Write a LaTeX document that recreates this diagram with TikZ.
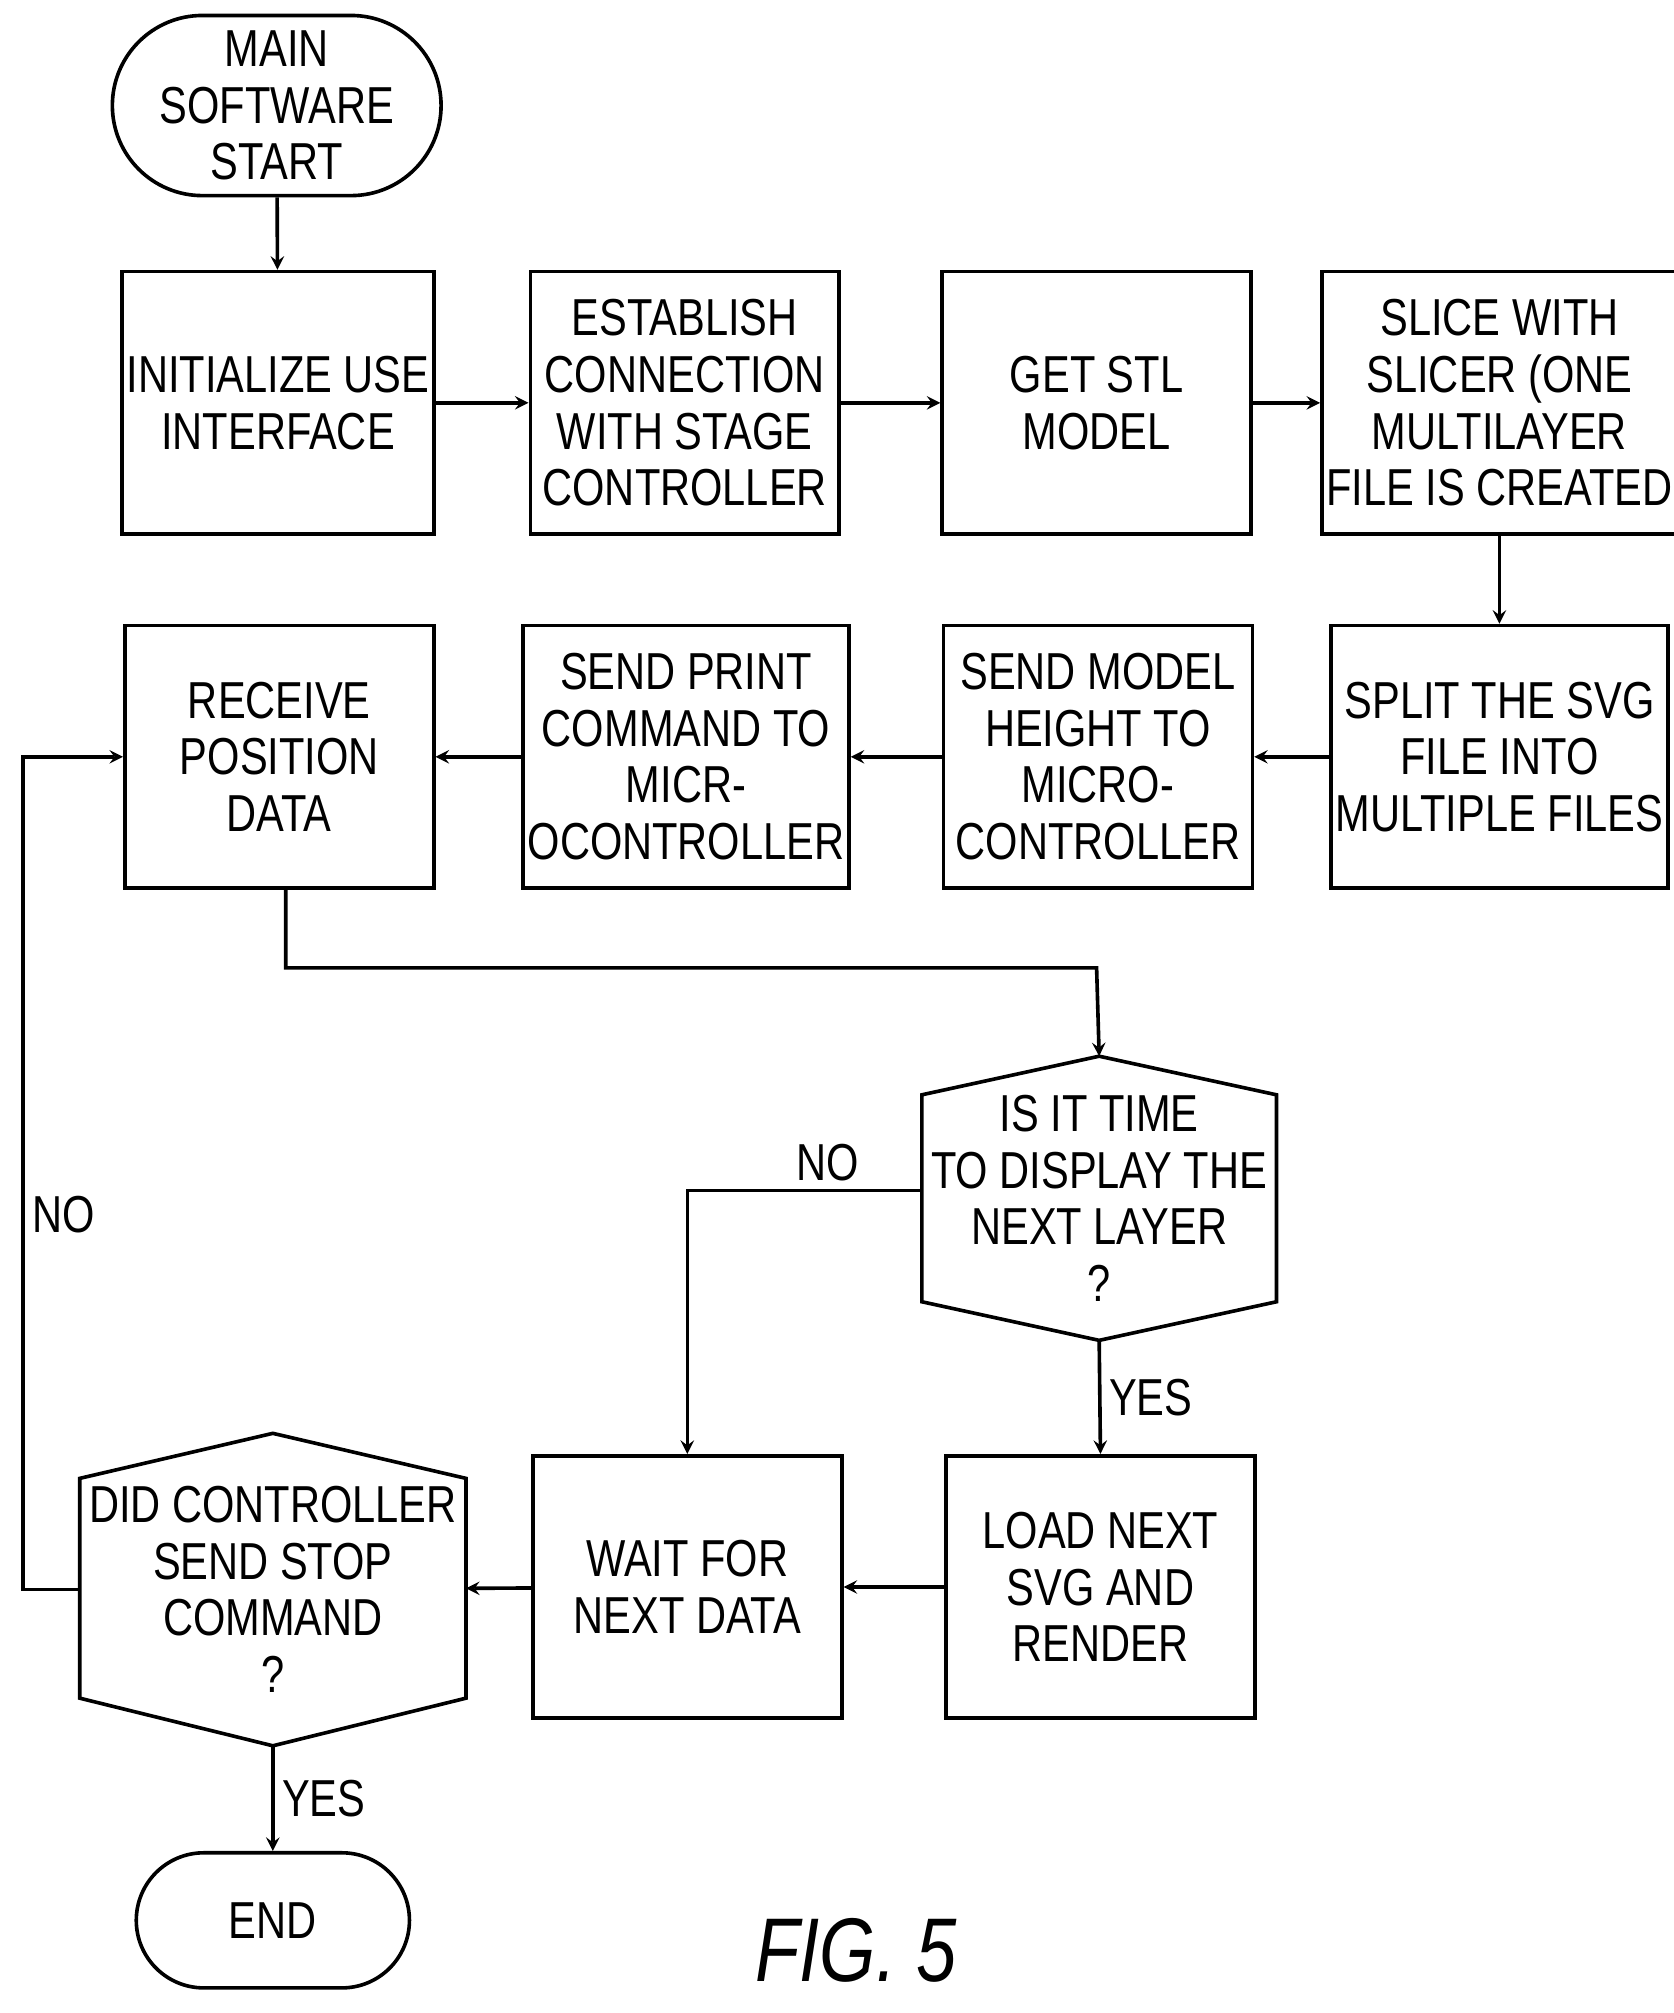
\documentclass[tikz,border=0pt]{standalone}
\usepackage{fontspec}
\setmainfont{Liberation Sans}[FakeStretch=0.8]
\usetikzlibrary{shapes.misc,calc}
\begin{document}
\begin{tikzpicture}[x=0.02cm,y=-0.02cm,line width=1.6pt,
  box/.style={draw,rectangle,minimum width=4.8cm,minimum height=4.08cm,align=center,
    font=\fontsize{23}{25}\selectfont,inner sep=2pt},
  term/.style={draw,rounded rectangle,align=center,font=\fontsize{23}{25}\selectfont},
  hexa/.style={rectangle,align=center,font=\fontsize{23}{25}\selectfont},
  lbl/.style={font=\fontsize{23}{25}\selectfont},
  arr/.style={->,>=stealth}]
\useasboundingbox (0,0) rectangle (1300,1564);

% Top row
\node[term,minimum width=4.7cm,minimum height=2.8cm] (start) at (215,82) {MAIN\\SOFTWARE\\START};
\node[box] (init) at (216,313) {INITIALIZE USE\\INTERFACE};
\node[box] (estab) at (532,313) {ESTABLISH\\CONNECTION\\WITH STAGE\\CONTROLLER};
\node[box] (getstl) at (852,313) {GET STL\\MODEL};
\node[box] (slice) at (1165,313) {SLICE WITH\\SLICER (ONE\\MULTILAYER\\FILE IS CREATED};

% Second row
\node[box] (split) at (1165,588) {SPLIT THE SVG\\FILE INTO\\MULTIPLE FILES};
\node[box] (model) at (853,588) {SEND MODEL\\HEIGHT TO\\MICRO-\\CONTROLLER};
\node[box] (print) at (533,588) {SEND PRINT\\COMMAND TO\\MICR-\\OCONTROLLER};
\node[box] (recv) at (217,588) {RECEIVE\\POSITION\\DATA};

% Decisions
\node[hexa,minimum width=4.84cm,minimum height=4.36cm] (ask) at (854,931) {IS IT TIME\\TO DISPLAY THE\\NEXT LAYER\\?};
\draw (ask.north) -- ($(ask.north east)+(0,30)$) -- ($(ask.south east)+(0,-30)$) -- (ask.south)
  -- ($(ask.south west)+(0,-30)$) -- ($(ask.north west)+(0,30)$) -- cycle;
\node[box] (load) at (855,1233) {LOAD NEXT\\SVG AND\\RENDER};
\node[box] (wait) at (534,1233) {WAIT FOR\\NEXT DATA};
\node[hexa,minimum width=5.2cm,minimum height=4.8cm] (stop) at (212,1235) {DID CONTROLLER\\SEND STOP\\COMMAND\\?};
\draw (stop.north) -- ($(stop.north east)+(0,35)$) -- ($(stop.south east)+(0,-37)$) -- (stop.south)
  -- ($(stop.south west)+(0,-37)$) -- ($(stop.north west)+(0,35)$) -- cycle;
\node[term,minimum width=4.48cm,minimum height=2.1cm] (end) at (212,1492) {END};

% Connectors
\draw[arr] (start) -- (init);
\draw[arr] (init) -- (estab);
\draw[arr] (estab) -- (getstl);
\draw[arr] (getstl) -- (slice);
\draw[arr] (slice) -- (split);
\draw[arr] (split) -- (model);
\draw[arr] (model) -- (print);
\draw[arr] (print) -- (recv);
\draw[arr] (recv.south) ++(5,0) |- (852,752) -- (ask.north);
\draw[arr] ($(ask.west)+(0,-6)$) -| node[lbl,pos=0.2,above] {NO} (wait.north);
\draw[arr] (ask.south) -- node[lbl,right] {YES} (load.north);
\draw[arr] (load) -- (wait);
\draw[arr] (wait) -- (stop);
\draw[arr] (stop.west) -- (18,1235) -- node[lbl,pos=0.45,right] {NO} (18,588) -- (recv.west);
\draw[arr] (stop.south) -- node[lbl,right] {YES} (end.north);

\node[font=\fontsize{40}{40}\selectfont\itshape] (fig) at (665,1515) {FIG. 5};
\end{tikzpicture}
\end{document}
